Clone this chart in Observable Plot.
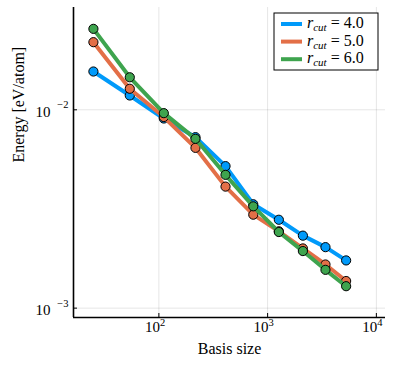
<!DOCTYPE html>
<html><head><meta charset="utf-8">
<script src="https://cdn.jsdelivr.net/npm/d3@7"></script>
<script src="https://cdn.jsdelivr.net/npm/@observablehq/plot@0.6"></script>
<style>body{margin:0;background:#fff} svg{font-family:"Liberation Serif",serif}</style>
</head><body><div id="chart"></div>
<script>
const basisSize = [25, 54, 111, 217, 410, 738, 1268, 2110, 3404, 5271];
const seriesNames = ["4.0", "5.0", "6.0"];
const energyR4 = [0.01560, 0.01181, 0.00904, 0.00728, 0.00520, 0.00334, 0.00279, 0.00232, 0.00203, 0.00174];
const energyR5 = [0.02193, 0.01277, 0.00920, 0.00643, 0.00410, 0.00296, 0.00244, 0.00200, 0.00166, 0.00137];
const energyR6 = [0.02560, 0.01459, 0.00962, 0.00714, 0.00470, 0.00326, 0.00242, 0.00194, 0.00156, 0.00129];
const colors = ["#009AFA", "#E36F47", "#3EA44E"];
const xTicks = [1e2, 1e3, 1e4];
const yTicks = [1e-3, 1e-2];

const xDomain = [16.4, 12134];
const yDomain = [0.000897, 0.0328];
const expo = v => String(Math.round(Math.log10(v))).replace("-", "\u2212");

const allE = [energyR4, energyR5, energyR6];
const data = [];
allE.forEach((arr, s) => arr.forEach((e, i) => data.push({series: seriesNames[s], x: basisSize[i], y: e})));

const marks = [
  Plot.ruleX(xTicks, {x: d => d, stroke: "#000", strokeOpacity: 0.1, strokeWidth: 1}),
  Plot.ruleY(yTicks, {y: d => d, stroke: "#000", strokeOpacity: 0.1, strokeWidth: 1}),
  Plot.ruleX(xTicks, {x: d => d, stroke: "#000", strokeWidth: 1, insetTop: 306}),
  Plot.ruleY(yTicks, {y: d => d, stroke: "#000", strokeWidth: 1, insetRight: 308}),
  Plot.ruleX([xDomain[0]], {stroke: "#000", strokeWidth: 1.6}),
  Plot.ruleY([yDomain[0]], {stroke: "#000", strokeWidth: 1.6}),
  // x tick labels: base + exponent
  Plot.text(xTicks, {x: d => d, frameAnchor: "bottom", dy: 14, dx: 1, textAnchor: "end", text: d => "10", fontSize: 15}),
  Plot.text(xTicks, {x: d => d, frameAnchor: "bottom", dy: 8, dx: 1, textAnchor: "start", text: expo, fontSize: 10.5}),
  // y tick labels
  Plot.text(yTicks, {y: d => d, frameAnchor: "left", dx: -5, dy: -5, textAnchor: "end", text: expo, fontSize: 10.5}),
  Plot.text(yTicks, {y: d => d, frameAnchor: "left", dx: -23, dy: 2, textAnchor: "end", text: d => "10", fontSize: 15}),
  Plot.text(["Basis size"], {frameAnchor: "bottom", dy: 36, text: d => d, fontSize: 16}),
  Plot.text(["Energy [eV/atom]"], {frameAnchor: "left", dx: -55, rotate: -90, text: d => d, fontSize: 16})
];
seriesNames.forEach((s, k) => {
  const sub = data.filter(d => d.series === s);
  marks.push(Plot.line(sub, {x: "x", y: "y", stroke: colors[k], strokeWidth: 4}));
  marks.push(Plot.dot(sub, {x: "x", y: "y", fill: colors[k], stroke: "#000", strokeWidth: 1, r: 4.6}));
});

const chart = Plot.plot({
  width: 397, height: 366,
  marginLeft: 73, marginRight: 12, marginTop: 7, marginBottom: 49,
  x: {type: "log", domain: xDomain, axis: null},
  y: {type: "log", domain: yDomain, axis: null},
  style: {fontFamily: "Liberation Serif, serif", background: "#fff", color: "#000"},
  marks
});
document.getElementById("chart").appendChild(chart);

// legend
const svg = d3.select(chart);
const lg = svg.append("g").attr("transform", "translate(274,13)");
lg.append("rect").attr("width", 104).attr("height", 57).attr("fill", "#fff").attr("stroke", "#000").attr("stroke-width", 1);
seriesNames.forEach((s, k) => {
  const y = 11 + k * 17.6;
  lg.append("line").attr("x1", 7).attr("x2", 28).attr("y1", y).attr("y2", y).attr("stroke", colors[k]).attr("stroke-width", 4);
  const t = lg.append("text").attr("x", 33).attr("y", y + 4).attr("text-anchor", "start")
    .attr("font-size", 16).attr("font-family", "Liberation Serif, serif");
  t.append("tspan").attr("font-style", "italic").text("r");
  t.append("tspan").attr("font-style", "italic").attr("font-size", 11).attr("dy", 3).text("cut");
  t.append("tspan").attr("dy", -3).text(" = " + s);
});
</script></body></html>
